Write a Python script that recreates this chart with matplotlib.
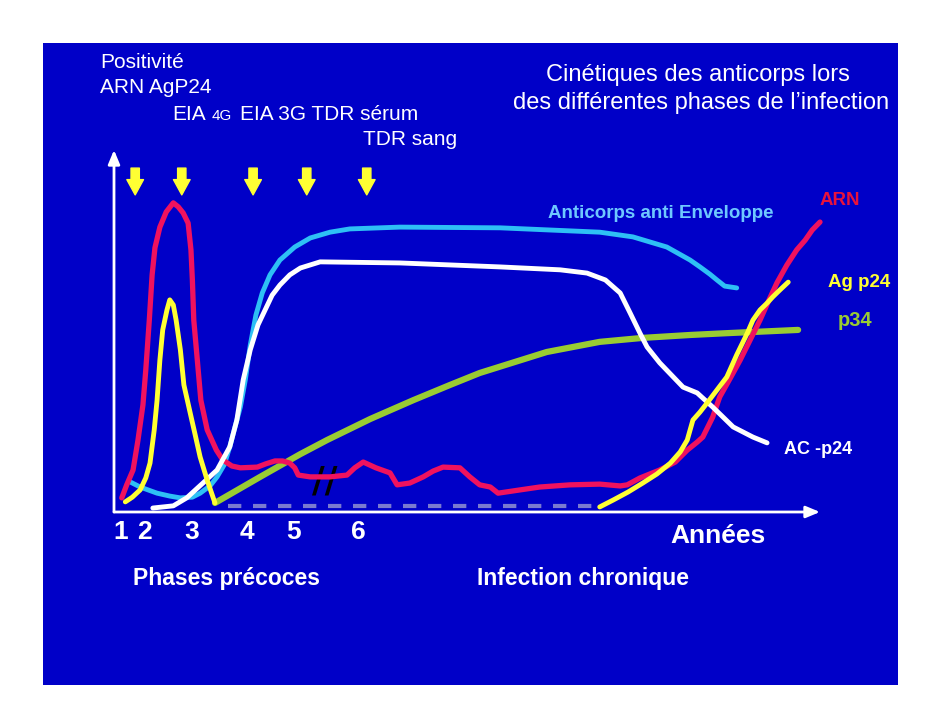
import numpy as np
import matplotlib
matplotlib.use("Agg")
import matplotlib.pyplot as plt
from matplotlib.patches import Rectangle

plt.rcParams['font.family'] = ['Liberation Sans', 'DejaVu Sans']

# couleurs de la diapo
BLEU = '#0000C8'
ROUGE = '#F0125E'
JAUNE = '#FFFF33'
CYAN = '#2EC0F5'
VERT = '#99CC33'
GRIS = '#7A7AD0'

# courbes (temps 0-100, niveau 0-100)
arn_x = [1.1, 1.8, 2.7, 3.4, 4.1, 4.5, 5.0, 5.4, 5.8, 6.5, 7.4, 8.4, 9.1, 9.8, 10.5, 10.9, 11.1,
         11.3, 11.8, 12.3, 13.2, 14.5, 15.4, 16.7, 17.9, 20.3, 21.5, 22.8, 23.9, 24.9, 25.6, 26.1,
         27.8, 30.6, 33.0, 34.1, 35.3, 37.1, 39.1, 40.1, 41.9, 43.8, 45.2, 46.6, 49.0, 50.4, 51.8,
         53.3, 54.4, 57.5, 60.3, 64.6, 68.8, 71.7, 72.7, 74.5, 77.3, 79.5, 81.2, 82.6, 83.4, 84.8,
         85.8, 87.3, 88.7, 90.1, 91.5, 92.9, 93.9, 95.3, 96.7, 97.9, 98.9, 100.0]
arn_y = [3.9, 7.5, 11.6, 19.9, 29.6, 39.2, 53.0, 65.5, 73.0, 78.7, 82.9, 85.4, 84.3, 82.6, 79.8, 72.4, 64.1,
         53.0, 42.0, 30.9, 22.7, 17.1, 14.4, 12.7, 12.2, 12.4, 13.3, 14.1, 14.1, 13.5, 12.2, 10.2,
         9.7, 9.7, 10.2, 12.2, 13.8, 12.2, 10.8, 7.5, 8.0, 9.7, 11.3, 12.4, 12.2, 9.7, 7.5,
         6.9, 5.2, 6.1, 6.9, 7.5, 7.7, 7.2, 7.5, 9.4, 11.6, 13.8, 17.1, 19.3, 20.7, 26.2,
         31.8, 37.0, 42.0, 47.5, 53.0, 59.1, 63.3, 68.2, 72.4, 75.1, 77.9, 80.1]

agp24_x = [1.6, 2.6, 3.7, 4.5, 5.1, 5.7, 6.1, 6.5, 6.9, 7.5, 7.9, 8.4, 8.8, 9.4, 9.9, 10.8, 11.5, 12.2,
           13.2, 14.3, np.nan,
           68.8, 70.7, 72.8, 74.9, 76.9, 78.8, 80.2, 81.2, 82.0, 83.0, 84.0, 85.4, 86.8, 88.2, 89.7,
           90.5, 91.5, 92.5, 93.3, 94.3, 95.5]
agp24_y = [2.8, 4.1, 6.1, 9.4, 13.5, 22.7, 30.9, 42.0, 50.3, 55.8, 58.6, 57.2, 53.0, 44.8, 35.1, 27.3,
           21.3, 15.2, 8.8, 2.5, np.nan,
           1.4, 3.3, 5.5, 8.0, 10.5, 13.5, 16.6, 19.9, 25.4, 27.6, 30.1, 33.7, 37.3, 43.4, 49.4,
           53.0, 55.8, 57.7, 59.4, 61.3, 63.5]

env_x = [2.3, 3.7, 6.1, 7.9, 9.4, 11.1, 12.2, 13.6, 14.6, 15.6, 16.4, 17.1, 17.9, 18.6, 19.3, 20.1,
         21.0, 22.1, 23.5, 25.6, 27.8, 30.6, 33.4, 40.5, 54.7, 68.8, 73.5, 78.3, 81.6, 83.0, 84.4,
         85.4, 86.5, 88.2]
env_y = [8.3, 6.9, 5.2, 4.4, 3.9, 4.1, 5.2, 7.2, 9.7, 13.0, 18.0, 23.2, 29.0, 36.5, 46.1, 54.4,
         60.5, 65.5, 69.6, 73.2, 75.7, 77.3, 78.2, 78.7, 78.5, 77.3, 76.0, 73.2, 69.6, 67.7, 65.7,
         64.1, 62.4, 61.9]

acp24_x = [5.5, 8.4, 10.3, 12.6, 14.6, 16.4, 17.4, 18.3, 19.3, 20.4, 21.4, 22.4, 23.5, 24.9, 26.4,
           29.2, 40.5, 54.7, 63.2, 67.0, 69.6, 71.7, 73.1, 74.5, 75.5, 77.3, 80.6, 82.6, 84.8, 87.7,
           90.5, 92.5]
acp24_y = [1.1, 1.7, 3.9, 8.0, 11.6, 18.0, 25.4, 36.5, 44.8, 51.7, 55.8, 59.9, 62.7, 65.5, 67.4,
           69.1, 68.8, 67.7, 66.9, 66.0, 64.1, 60.5, 55.0, 49.4, 45.6, 41.2, 34.5, 32.9, 29.0, 23.5,
           20.7, 19.1]

p34_x = [14.3, 20.7, 26.4, 30.2, 36.3, 42.4, 47.6, 51.8, 61.3, 68.8, 74.9, 81.6, 86.8, 96.9]
p34_y = [2.5, 9.7, 16.0, 19.9, 25.7, 30.9, 35.1, 38.4, 44.2, 47.0, 48.1, 48.9, 49.4, 50.3]

# segment "négatif" en pointillés
neg_x = [16.1, 68.8]
neg_y = [1.7, 1.7]

# flèches de positivité et numéros des phases
fleches_x = [3.0, 9.6, 19.7, 27.3, 35.8]
phases_x = [1.0, 4.25, 11.05, 18.85, 25.5, 34.6]
phases_lbl = ['1', '2', '3', '4', '5', '6']

W, H = 942, 728
fig = plt.figure(figsize=(W / 100, H / 100), dpi=100)
fig.patch.set_facecolor('white')


def fx(x):
    return x / W


def fy(y):
    return 1 - y / H


# fond bleu de la diapo
fig.patches.append(Rectangle((fx(43), fy(685)), fx(898) - fx(43), fy(43) - fy(685),
                             transform=fig.transFigure, facecolor=BLEU, edgecolor='none', zorder=-5))

ax = fig.add_axes([fx(114), fy(512), fx(820) - fx(114), fy(150) - fy(512)])
ax.set_xlim(0, 100)
ax.set_ylim(0, 100)
ax.axis('off')

# axes avec flèches
for fin in [(100, 0), (0, 100)]:
    ax.annotate('', xy=fin, xytext=(0, 0), annotation_clip=False,
                arrowprops=dict(arrowstyle='-|>,head_length=0.6,head_width=0.25', color='white', lw=2,
                                shrinkA=0, shrinkB=0, mutation_scale=14))

kw = dict(solid_capstyle='round', solid_joinstyle='round', clip_on=False)
ax.plot(neg_x, neg_y, color=GRIS, lw=3, dashes=(3.2, 2.8), clip_on=False)
ax.plot(p34_x, p34_y, color=VERT, lw=4.5, zorder=3, **kw)
ax.plot(env_x, env_y, color=CYAN, lw=3.5, zorder=4, **kw)
ax.plot(acp24_x, acp24_y, color='white', lw=3.5, zorder=5, **kw)
ax.plot(arn_x, arn_y, color=ROUGE, lw=3.8, zorder=4, **kw)
ax.plot(agp24_x, agp24_y, color=JAUNE, lw=3.5, zorder=6, **kw)

for x in fleches_x:
    ax.annotate('', xy=(x, 87.6), xytext=(x, 95.0), annotation_clip=False,
                arrowprops=dict(arrowstyle='simple,head_length=0.55,head_width=0.6,tail_width=0.3',
                                color=JAUNE, shrinkA=0, shrinkB=0, mutation_scale=20))

for x, lbl in zip(phases_x, phases_lbl):
    ax.text(x, -5.5, lbl, color='white', fontsize=19, fontweight='bold',
            ha='center', va='center', clip_on=False)

ax.text(29.9, 8.3, '//', color='black', fontsize=25, fontweight='bold', ha='center', va='center',
        family='DejaVu Sans')

# textes
blanc = dict(color='white')
fig.text(fx(100), fy(68), 'Positivité', fontsize=15, va='baseline', **blanc)
fig.text(fx(100), fy(93), 'ARN AgP24', fontsize=15, va='baseline', **blanc)
fig.text(fx(172), fy(120), 'EIA', fontsize=15, va='baseline', **blanc)
fig.text(fx(212), fy(120), '4G', fontsize=11, va='baseline', **blanc)
fig.text(fx(240), fy(120), 'EIA 3G TDR sérum', fontsize=15, va='baseline', **blanc)
fig.text(fx(363), fy(145), 'TDR sang', fontsize=15, va='baseline', **blanc)

fig.text(fx(698), fy(81), 'Cinétiques des anticorps lors', fontsize=17, ha='center',
         va='baseline', **blanc)
fig.text(fx(701), fy(109), 'des différentes phases de l\u2019infection', fontsize=17,
         ha='center', va='baseline', **blanc)

fig.text(fx(548), fy(218), 'Anticorps anti Enveloppe', fontsize=13.5, fontweight='bold',
         color='#6EC8FF', va='baseline')
fig.text(fx(820), fy(205), 'ARN', fontsize=13.5, fontweight='bold', color='#E8123C', va='baseline')
fig.text(fx(828), fy(287), 'Ag p24', fontsize=13.5, fontweight='bold', color=JAUNE, va='baseline')
fig.text(fx(838), fy(326), 'p34', fontsize=14.5, fontweight='bold', color=VERT, va='baseline')
fig.text(fx(784), fy(454), 'AC -p24', fontsize=13, fontweight='bold', color='white', va='baseline')

fig.text(fx(670), fy(543), 'Années', fontsize=19, fontweight='bold', color='white', va='baseline')
fig.text(fx(133), fy(585), 'Phases précoces', fontsize=16.5, fontweight='bold', color='white',
         va='baseline')
fig.text(fx(477), fy(585), 'Infection chronique', fontsize=16.5, fontweight='bold', color='white',
         va='baseline')

fig.savefig('out.png', dpi=100, facecolor='white')
